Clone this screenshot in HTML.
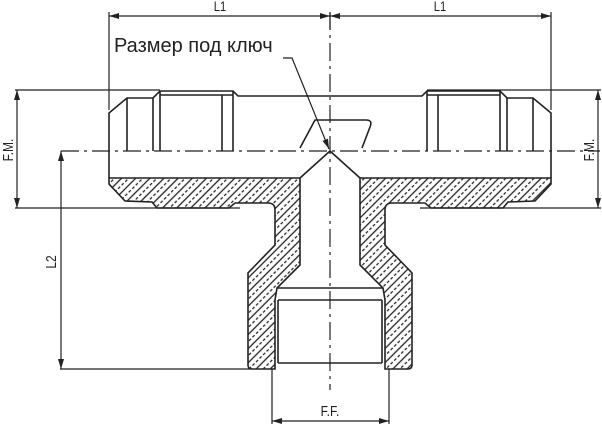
<!DOCTYPE html>
<html><head><meta charset="utf-8"><style>html,body{margin:0;padding:0;background:#fff}svg{display:block}</style></head>
<body>
<svg width="602" height="424" viewBox="0 0 602 424" xmlns="http://www.w3.org/2000/svg" font-family="Liberation Sans, DejaVu Sans, sans-serif">
<defs>
<pattern id="h" patternUnits="userSpaceOnUse" width="10" height="10" patternTransform="rotate(45)">
<rect width="10" height="10" fill="#fff"/>
<line x1="0" y1="2" x2="10" y2="2" stroke="#222" stroke-width="1.3"/>
<line x1="0" y1="7" x2="10" y2="7" stroke="#222" stroke-width="1.2" stroke-dasharray="3 2"/>
</pattern>
<pattern id="h2" patternUnits="userSpaceOnUse" width="10" height="10" patternTransform="rotate(-45)">
<rect width="10" height="10" fill="#fff"/>
<line x1="0" y1="2" x2="10" y2="2" stroke="#222" stroke-width="1.3"/>
<line x1="0" y1="7" x2="10" y2="7" stroke="#222" stroke-width="1.2" stroke-dasharray="3 2"/>
</pattern>
<marker id="a" viewBox="0 0 10 6" refX="10" refY="3" markerWidth="10" markerHeight="6" orient="auto-start-reverse" markerUnits="userSpaceOnUse"><path d="M0,0 L10,3 L0,6 Z" fill="#222"/></marker>
<path id="hp" d="M109,178 L300,178 L300,265 L277,288 L275,300 L275,369 L252,369 Q248,369 248,365 L248,273 L275,245 L275,210 Q275,203 268,203 L235,203 L229,208 L157,208 L152,202 L125,201 L109,184 Z"/>
<g id="half" fill="none" stroke="#222" stroke-width="1.6">
<path d="M109,178 L109,113 L127,98 L153,98 L160,91 L233,91 L238,96 L330,96"/>
<path d="M127,98 V151 M153,98 V151 M160,91 V151 M222,95 V151 M233,91 V151 M160,95 H233"/>
<path d="M277,288 H330 M278,300 H330 M278,363 H330 M278,300 V363"/>
<path d="M300,178 L330,151"/>
</g>
</defs>
<use href="#hp" fill="url(#h2)" stroke="#222" stroke-width="1.6"/>
<use href="#hp" fill="url(#h)" stroke="#222" stroke-width="1.6" transform="translate(660,0) scale(-1,1)"/>
<use href="#half"/>
<use href="#half" transform="translate(660,0) scale(-1,1)"/>
<g fill="none" stroke="#222" stroke-width="1.6">
<path d="M300,148 L315,120 L366,120 Q373,120 370,127 L362,148"/>
</g>
<g fill="none" stroke="#222" stroke-width="1.2">
<path d="M61,151 H600" stroke-dasharray="18 5 3 5"/>
<path d="M330,12 V390" stroke-dasharray="18 5 3 5"/>
<path d="M109,12 V110 M551,12 V110 M330,12 V30"/>
<path d="M109,16 H330" marker-start="url(#a)" marker-end="url(#a)"/>
<path d="M330,16 H551" marker-start="url(#a)" marker-end="url(#a)"/>
<path d="M15,90 H160 M15,208 H240 M427,90 H601 M420,208 H601"/>
<path d="M17,90 V208" marker-start="url(#a)" marker-end="url(#a)"/>
<path d="M598,90 V208" marker-start="url(#a)" marker-end="url(#a)"/>
<path d="M60,369 H252"/>
<path d="M61,151 V369" marker-start="url(#a)" marker-end="url(#a)"/>
<path d="M272,369 V424 M389,369 V424"/>
<path d="M272,421 H389" marker-start="url(#a)" marker-end="url(#a)"/>
<path d="M283,58 H292 L329,149" marker-end="url(#a)"/>
</g>
<g fill="#222" font-size="14">
<text x="220" y="11" text-anchor="middle" transform="translate(220,0) scale(0.8,1) translate(-220,0)">L1</text>
<text x="440" y="11" text-anchor="middle" transform="translate(440,0) scale(0.8,1) translate(-440,0)">L1</text>
<text x="330" y="416" text-anchor="middle" font-size="15" transform="translate(330,0) scale(0.8,1) translate(-330,0)">F.F.</text>
<text transform="translate(13,150) rotate(-90) scale(0.8,1)" text-anchor="middle" font-size="15">F.M.</text>
<text transform="translate(594,150) rotate(-90) scale(0.8,1)" text-anchor="middle" font-size="15">F.M.</text>
<text transform="translate(56,262) rotate(-90) scale(0.8,1)" text-anchor="middle" font-size="15">L2</text>
</g>
<text x="114" y="52" font-size="20" fill="#222">Размер под ключ</text>
</svg>
</body></html>
